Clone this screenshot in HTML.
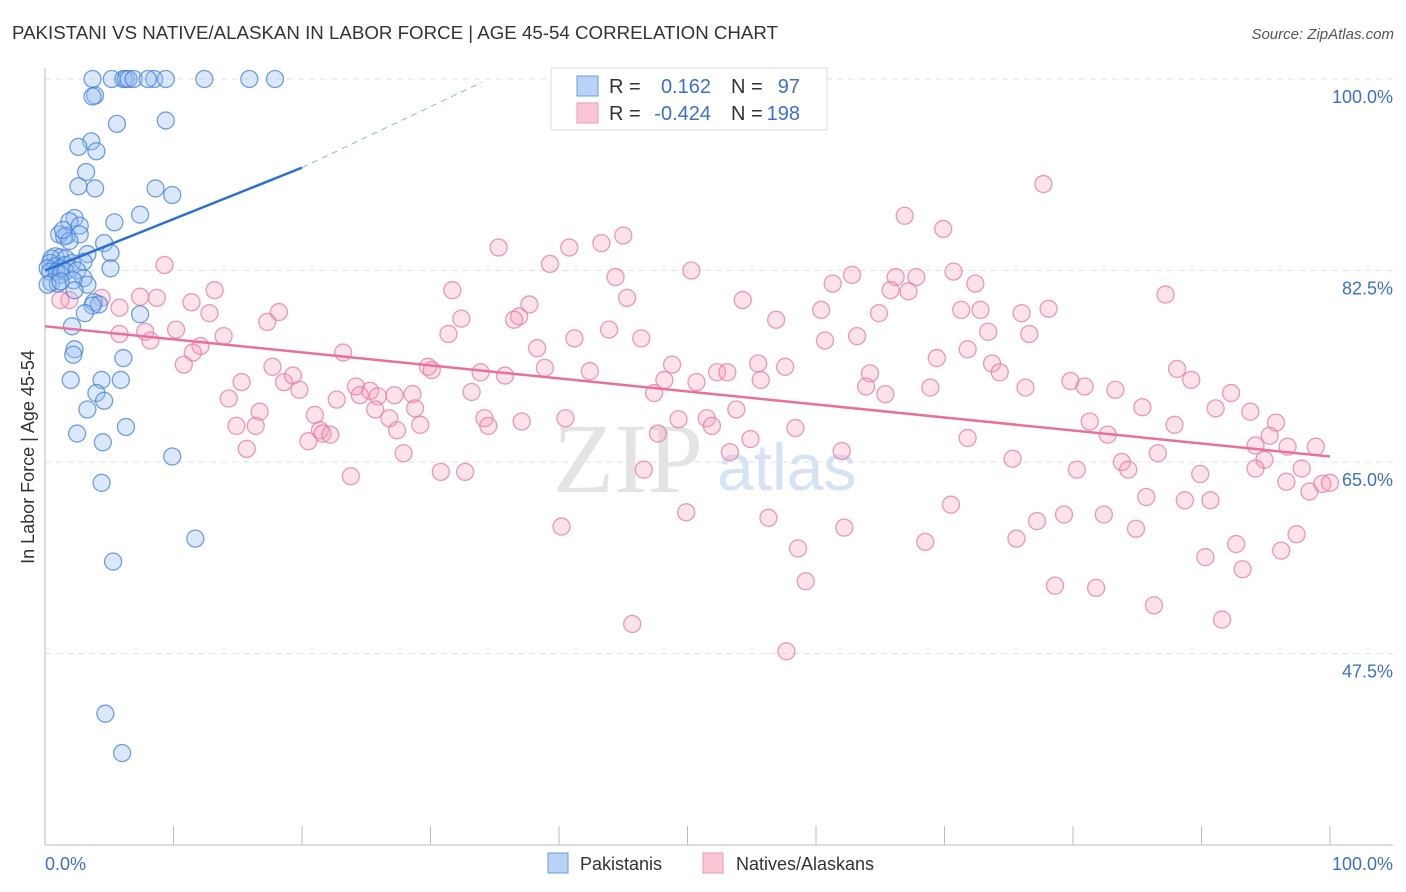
<!DOCTYPE html>
<html><head><meta charset="utf-8">
<style>
body{margin:0;background:#fff;font-family:"Liberation Sans",sans-serif;}
#wrap{position:relative;width:1406px;height:892px;overflow:hidden;}
svg text{font-family:"Liberation Sans",sans-serif;}
</style></head>
<body>
<div id="wrap">
<svg id="chart" width="1406" height="892">
  <text x="12" y="39" font-size="18" fill="#333" textLength="766" lengthAdjust="spacingAndGlyphs">PAKISTANI VS NATIVE/ALASKAN IN LABOR FORCE | AGE 45-54 CORRELATION CHART</text>
  <text x="1394" y="39" font-size="15" fill="#555" font-style="italic" text-anchor="end">Source: ZipAtlas.com</text>
  <text x="553" y="492" font-size="100" fill="#e4e4e4" style="font-family:'Liberation Serif',serif">ZIP</text>
  <text x="717" y="490" font-size="66" fill="#d6e3f5">atlas</text>
  <g id="grid"></g>
  <g id="axes"></g>
  <g id="pinkPts"></g>
  <g id="bluePts"></g>
  <g id="trends"></g>
  <text transform="translate(34,457) rotate(-90)" font-size="18" fill="#333" text-anchor="middle">In Labor Force | Age 45-54</text>
  <text x="45" y="870" font-size="18" fill="#3b6fd4">0.0%</text>
  <text x="1393" y="870" font-size="18" fill="#3b6fd4" text-anchor="end">100.0%</text>
  <g>
    <rect x="551" y="68" width="276" height="62" fill="#fff" stroke="#ddd"/>
    <rect x="577" y="76" width="21" height="20" fill="#b8d3f5" stroke="#6b9be0"/>
    <rect x="577" y="103" width="21" height="20" fill="#f9c6d5" stroke="#ee98b3"/>
    <text x="609" y="93" font-size="20" fill="#333">R =</text>
    <text x="711" y="93" font-size="20" fill="#3b6fd4" text-anchor="end">0.162</text>
    <text x="731" y="93" font-size="20" fill="#333">N =</text>
    <text x="800" y="93" font-size="20" fill="#3b6fd4" text-anchor="end">97</text>
    <text x="609" y="120" font-size="20" fill="#333">R =</text>
    <text x="711" y="120" font-size="20" fill="#3b6fd4" text-anchor="end">-0.424</text>
    <text x="731" y="120" font-size="20" fill="#333">N =</text>
    <text x="800" y="120" font-size="20" fill="#3b6fd4" text-anchor="end">198</text>
  </g>
  <g>
    <rect x="548" y="853" width="20" height="20" fill="#b8d3f5" stroke="#6b9be0"/>
    <text x="580" y="870" font-size="18" fill="#333">Pakistanis</text>
  </g>
  <g>
    <rect x="703" y="853" width="20" height="20" fill="#f9c6d5" stroke="#ee98b3"/>
    <text x="736" y="870" font-size="18" fill="#333">Natives/Alaskans</text>
  </g>
</svg>
</div>
<script>
const yTicks=[100,82.5,65,47.5];
const yTickLabels=["100.0%","82.5%","65.0%","47.5%"];
const xTicks=[0,10,20,30,40,50,60,70,80,90,100];
const blueX=[3.7,5.2,6.1,6.3,6.5,6.9,8.5,9.4,12.4,15.9,17.9,8.0,3.9,3.7,5.6,9.4,3.6,2.6,4.0,3.2,2.6,3.9,8.6,9.9,7.4,5.4,2.3,1.9,2.7,1.7,1.1,1.5,2.7,1.9,4.6,5.1,3.3,0.8,1.2,0.5,1.6,0.4,0.8,0.2,1.2,1.6,2.1,3.0,0.4,0.9,1.2,1.6,2.5,5.1,0.5,1.0,0.2,3.0,3.3,2.2,2.3,3.8,4.2,1.2,3.7,3.1,7.4,2.1,6.1,2.3,2.2,2.0,4.4,5.9,4.0,4.6,3.3,2.5,6.3,4.5,9.9,4.4,11.7,5.3,4.7,6.0,1.4];
const blueY=[100,100,100,100,100,100,100,100,100,100,100,100,98.5,98.4,95.9,96.2,94.3,93.8,93.4,91.5,90.2,90.0,90.0,89.4,87.6,86.9,87.3,87.0,86.6,85.7,85.8,85.6,85.8,85.2,85.0,84.1,84.0,83.8,83.7,83.6,83.6,83.2,82.9,82.7,82.7,83.0,83.2,83.3,82.4,82.4,82.1,82.4,82.5,82.7,81.4,81.3,81.2,81.8,81.2,81.6,80.7,79.6,79.4,81.5,79.3,78.6,78.5,77.4,74.5,75.3,74.8,72.5,72.5,72.5,71.3,70.6,69.8,67.6,68.2,66.8,65.5,63.1,58.0,55.9,42.0,38.4,86.2];
const pinkX=[77.7,66.9,69.9,45.0,43.3,40.8,35.3,39.3,50.3,70.7,62.8,66.2,67.8,61.3,72.4,44.4,65.8,67.2,31.7,13.2,9.3,87.2,54.3,45.3,37.7,11.4,8.7,7.4,4.4,1.9,1.2,5.8,12.8,18.2,17.3,32.4,36.9,36.5,60.4,64.9,56.9,78.1,71.3,72.8,76.0,43.9,73.4,76.6,31.4,41.2,46.4,10.2,7.8,5.8,13.9,60.7,63.2,8.2,12.1,11.5,23.2,38.3,71.8,69.4,48.8,55.5,57.6,10.8,17.7,29.8,30.1,33.9,35.8,38.9,42.4,52.3,53.1,88.1,89.2,73.7,74.3,64.2,48.2,50.7,55.7,63.9,65.4,68.9,79.8,80.9,76.3,83.3,92.3,15.3,18.6,19.3,19.8,24.2,25.3,25.9,27.2,28.6,33.2,14.3,16.7,21.0,22.7,24.5,25.7,26.8,28.8,47.4,53.8,85.4,91.1,93.8,95.8,81.3,87.9,95.3,71.8,82.7,21.4,21.6,22.2,14.9,16.4,20.5,27.4,29.2,34.2,34.5,37.1,40.5,49.3,51.5,51.9,47.7,58.4,54.9,53.3,86.6,94.2,96.7,98.9,75.3,83.8,94.9,15.7,27.9,62.0,80.3,84.3,89.9,94.2,97.8,30.8,32.7,46.6,23.8,96.6,98.4,99.4,100,85.7,88.7,90.7,70.5,79.3,82.4,49.9,77.2,56.3,84.9,40.2,62.2,75.6,68.5,92.7,97.4,58.6,90.3,96.2,93.2,59.2,78.6,81.8,86.3,91.6,45.7,57.7];
const pinkY=[90.4,87.5,86.3,85.7,85.0,84.6,84.6,83.1,82.5,82.4,82.1,81.9,81.9,81.3,81.3,81.9,80.7,80.6,80.7,80.7,83.0,80.3,79.8,80.0,79.4,79.6,80.0,80.1,80.0,79.8,79.8,79.1,78.6,78.7,77.8,78.1,78.3,78.0,78.9,78.6,78.0,79.0,78.9,78.9,78.6,77.1,76.9,76.7,76.7,76.3,76.3,77.1,76.9,76.7,76.5,76.1,76.5,76.1,75.6,75.0,75.0,75.4,75.3,74.5,73.9,74.0,73.7,73.9,73.7,73.7,73.4,73.2,72.9,73.6,73.3,73.2,73.2,73.5,72.5,74.0,73.2,73.1,72.5,72.3,72.5,71.9,71.2,71.8,72.4,71.9,71.8,71.6,71.3,72.3,72.3,72.9,71.6,71.9,71.5,71.0,71.1,71.2,71.4,70.8,69.6,69.3,70.7,71.1,69.8,69.0,69.9,71.3,69.8,70.0,69.9,69.6,68.6,68.7,68.4,67.4,67.2,67.5,67.9,67.6,67.5,68.3,68.3,66.9,67.9,68.4,69.0,68.3,68.7,69.0,68.9,69.0,68.3,67.6,68.1,67.1,65.9,65.8,66.5,66.4,66.4,65.3,65.0,65.2,66.2,65.8,66.0,64.3,64.3,63.9,64.4,64.4,64.1,64.1,64.3,63.7,63.2,62.3,63.0,63.1,61.8,61.5,61.5,61.1,60.2,60.2,60.4,59.6,59.9,58.9,59.1,59.0,58.0,57.7,57.5,58.4,57.1,56.3,56.9,55.2,54.1,53.7,53.5,51.9,50.6,50.2,47.7];
const blueTrendX=[0,20];
const blueTrendY=[82.5,91.9];
const blueDashX=[20,34];
const blueDashY=[91.9,99.7];
const pinkTrendX=[0,100];
const pinkTrendY=[77.4,65.5];

const NS="http://www.w3.org/2000/svg";
const X0=45,X1=1330,YT=79,YB=845,YMIN=30,YMAX=100;
function sx(v){return X0+(v/100)*(X1-X0);}
function sy(v){return YB-(v-YMIN)/(YMAX-YMIN)*(YB-YT);}
function mk(tag,attrs,parent){const e=document.createElementNS(NS,tag);for(const k in attrs)e.setAttribute(k,attrs[k]);parent.appendChild(e);return e;}

const grid=document.getElementById('grid');
yTicks.forEach((t,i)=>{
  const l=mk('line',{x1:X0,x2:1393,y1:sy(t),y2:sy(t),stroke:'#e2e2e2','stroke-dasharray':'6,5'},grid);
  
  
  const tx=mk('text',{x:1393,y:sy(t)+24,'font-size':18,fill:'#3b6fd4','text-anchor':'end'},grid);
  tx.textContent=yTickLabels[i];
  
  
});
const axes=document.getElementById('axes');
const ya=mk('line',{x1:X0,x2:X0,y1:68,y2:YB,stroke:'#bbb'},axes);


const xa=mk('line',{x1:X0,x2:1393,y1:YB,y2:YB,stroke:'#bbb'},axes);


xTicks.forEach(t=>{
  const tk=mk('line',{x1:sx(t),x2:sx(t),y1:YB,y2:YB-19,stroke:'#bbb'},axes);
  
  
});
const pg=document.getElementById('pinkPts');
pinkX.forEach((v,i)=>{
  const c=mk('circle',{cx:sx(v),cy:sy(pinkY[i]),r:8.5,fill:'rgba(244,160,188,0.3)',stroke:'rgba(232,120,158,0.75)','stroke-width':1.3},pg);
  
  
});
const bg=document.getElementById('bluePts');
blueX.forEach((v,i)=>{
  const c=mk('circle',{cx:sx(v),cy:sy(blueY[i]),r:8.5,fill:'rgba(150,190,240,0.35)',stroke:'rgba(70,130,215,0.75)','stroke-width':1.3},bg);
  
  
});
const tg=document.getElementById('trends');
const bt=mk('line',{x1:sx(blueTrendX[0]),y1:sy(blueTrendY[0]),x2:sx(blueTrendX[1]),y2:sy(blueTrendY[1]),stroke:'#2a6fd6','stroke-width':2.5},tg);


const bd=mk('line',{x1:sx(blueDashX[0]),y1:sy(blueDashY[0]),x2:sx(blueDashX[1]),y2:sy(blueDashY[1]),stroke:'#8fb3e6','stroke-width':1,'stroke-dasharray':'6,5'},tg);


const pt=mk('line',{x1:sx(pinkTrendX[0]),y1:sy(pinkTrendY[0]),x2:sx(pinkTrendX[1]),y2:sy(pinkTrendY[1]),stroke:'#e8709a','stroke-width':2.5},tg);


</script>
</body></html>
